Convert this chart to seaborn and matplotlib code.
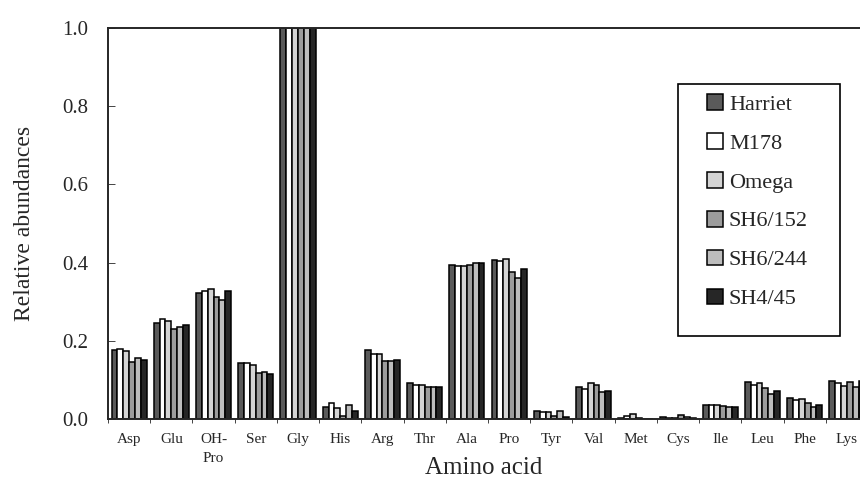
import matplotlib
matplotlib.use('Agg')
import matplotlib.pyplot as plt
import seaborn as sns
import pandas as pd
from matplotlib.patches import Rectangle
from matplotlib.ticker import FixedLocator

# Amino acid categories (x axis)
amino_acids = ['Asp', 'Glu', 'OH-\nPro', 'Ser', 'Gly', 'His', 'Arg', 'Thr', 'Ala',
               'Pro', 'Tyr', 'Val', 'Met', 'Cys', 'Ile', 'Leu', 'Phe', 'Lys']

samples = ['Harriet', 'M178', 'Omega', 'SH6/152', 'SH6/244', 'SH4/45']

harriet = [0.176, 0.246, 0.321, 0.142, 1.0, 0.031, 0.176, 0.091, 0.393,
           0.407, 0.020, 0.081, 0.003, 0.004, 0.035, 0.094, 0.053, 0.097]
m178 = [0.180, 0.256, 0.328, 0.144, 1.0, 0.040, 0.167, 0.088, 0.392,
        0.405, 0.018, 0.076, 0.007, 0.002, 0.037, 0.088, 0.048, 0.092]
omega = [0.174, 0.250, 0.332, 0.139, 1.0, 0.027, 0.165, 0.088, 0.392,
         0.408, 0.017, 0.092, 0.012, 0.002, 0.035, 0.092, 0.052, 0.085]
sh6_152 = [0.146, 0.231, 0.311, 0.118, 1.0, 0.008, 0.149, 0.083, 0.393,
           0.376, 0.008, 0.086, 0.002, 0.009, 0.032, 0.079, 0.042, 0.094]
sh6_244 = [0.156, 0.236, 0.304, 0.120, 1.0, 0.036, 0.149, 0.081, 0.398,
           0.361, 0.020, 0.068, 0.001, 0.005, 0.031, 0.063, 0.030, 0.081]
sh4_45 = [0.151, 0.240, 0.327, 0.115, 1.0, 0.021, 0.151, 0.081, 0.400,
          0.384, 0.004, 0.072, 0.001, 0.003, 0.031, 0.072, 0.036, 0.097]

series = [harriet, m178, omega, sh6_152, sh6_244, sh4_45]
rows = []
for name, vals in zip(samples, series):
    for aa, v in zip(amino_acids, vals):
        rows.append({'aa': aa, 'sample': name, 'value': v})
df = pd.DataFrame(rows)

palette = ['#5a5a5a', '#ffffff', '#d4d4d4', '#9c9c9c', '#bdbdbd', '#262626']

sns.set_style('ticks')
plt.rcParams['font.family'] = ['Liberation Serif', 'DejaVu Serif']

W, H = 860, 491
fig = plt.figure(figsize=(8.6, 4.91), dpi=100)
ax = fig.add_axes([108 / W, 1 - 419 / H, 1 - 108 / W, 391 / H])

sns.barplot(data=df, x='aa', y='value', hue='sample', palette=palette,
            width=0.83, edgecolor='black', linewidth=1.1, ax=ax,
            legend=True)

ax.set_xlim(-0.5, 17.31)
ax.set_ylim(0, 1.0)
ax.set_yticks([0.0, 0.2, 0.4, 0.6, 0.8, 1.0])
ax.set_yticklabels(['0.0', '0.2', '0.4', '0.6', '0.8', '1.0'], fontsize=15)
ax.tick_params(axis='y', direction='in', length=5, width=0.6, pad=14)
ax.tick_params(axis='x', which='major', length=0, labelsize=11, pad=10)
ax.xaxis.set_minor_locator(FixedLocator([i - 0.5 for i in range(19)]))
ax.tick_params(axis='x', which='minor', direction='out', length=3, width=0.6)
for lab in ax.get_xticklabels():
    lab.set_linespacing(1.6)

for side in ['left', 'bottom', 'top']:
    ax.spines[side].set_visible(True)
    ax.spines[side].set_linewidth(1.4)
ax.spines['right'].set_visible(False)

ax.set_xlabel('Amino acid', fontsize=18)
ax.xaxis.set_label_coords(0.5, -0.098)
ax.set_ylabel('Relative abundances', fontsize=17, labelpad=20)

# legend: frame drawn separately so the handles can sit inset
frame = Rectangle((678 / W, 1 - 336 / H), 162 / W, 252 / H,
                  transform=fig.transFigure, facecolor='white',
                  edgecolor='black', linewidth=1.2, clip_on=False, zorder=4)
ax.add_patch(frame)

handles, labels = ax.get_legend_handles_labels()
leg = ax.legend(handles, labels, loc='upper left',
                bbox_to_anchor=(707 / W, 1 - 94 / H),
                bbox_transform=fig.transFigure, fontsize=16,
                frameon=False, handlelength=0.72, handleheight=0.72,
                handletextpad=0.27, labelspacing=0.82,
                borderpad=0, borderaxespad=0)
leg.set_zorder(5)

fig.savefig('out.png', dpi=100)
plt.close(fig)
